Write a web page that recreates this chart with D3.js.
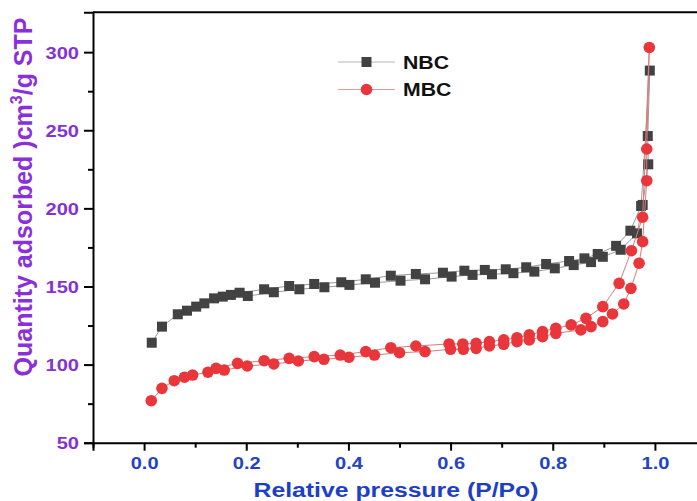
<!DOCTYPE html>
<html>
<head>
<meta charset="utf-8">
<script src="https://cdn.jsdelivr.net/npm/d3@7"></script>
<style>
  body { margin: 0; background: #fff; }
  text { font-family: "Liberation Sans", Arial, sans-serif; font-weight: bold; }
</style>
</head>
<body>
<div id="chart"></div>
<script>
// isotherm points: [P/Po, quantity]
var nbcAds = [[0.015,114],[0.035,124.3],[0.066,132.2],[0.084,134.5],[0.102,137.1],[0.118,139.2],
  [0.137,142.4],[0.154,143.5],[0.170,144.6],[0.203,143.9],[0.254,146.3],[0.304,148.2],[0.353,149.5],
  [0.402,151],[0.452,152.4],[0.502,153.7],[0.550,154.6],[0.602,156.3],[0.643,157.4],[0.681,157.8],
  [0.723,158.5],[0.764,159.5],[0.804,161.6],[0.841,163.7],[0.875,165.6],[0.898,169],[0.933,173.5],
  [0.965,184],[0.976,202.2],[0.987,228.2],[0.986,246.3],[0.990,288.2]];
var nbcDes = [[0.990,288.2],[0.973,201.5],[0.952,185.7],[0.924,176],[0.888,170.8],[0.862,168],
  [0.832,166.3],[0.787,164.4],[0.748,162.3],[0.708,161],[0.667,160.6],[0.627,160.1],[0.585,158.8],
  [0.532,158],[0.483,156.9],[0.434,154.6],[0.386,152.7],[0.333,151.6],[0.284,150.3],[0.235,148.2],
  [0.187,146]];
var mbcAds = [[0.014,76.9],[0.035,84.8],[0.059,89.7],[0.079,91.9],[0.095,93.3],[0.125,95.1],
  [0.157,96.5],[0.202,99.1],[0.254,100.4],[0.302,102.3],[0.352,103.4],[0.401,104.7],[0.451,106.1],
  [0.500,107.6],[0.550,108.3],[0.600,109.8],[0.625,109.8],[0.650,110.4],[0.676,111.9],[0.704,113],
  [0.730,114.7],[0.754,115.8],[0.780,117.9],[0.806,120],[0.855,122.2],[0.875,124.3],[0.898,127.5],
  [0.917,132.4],[0.939,138.8],[0.953,148.8],[0.969,164.9],[0.976,178.7],[0.984,217.7],[0.984,238],
  [0.989,303]];
var mbcDes = [[0.989,303],[0.976,194.3],[0.954,172.9],[0.930,152],[0.898,137.1],[0.865,129.6],
  [0.836,125.4],[0.806,123.2],[0.780,121.1],[0.754,119],[0.730,117.2],[0.704,115.8],[0.676,114.7],
  [0.650,113.6],[0.624,113.2],[0.597,113.2],[0.532,111.9],[0.483,110.8],[0.434,108.3],[0.384,106.1],
  [0.333,105.1],[0.284,104],[0.235,102.5],[0.183,100.8],[0.141,97.6]];

var xMajor = [0, 0.2, 0.4, 0.6, 0.8, 1.0];
var xMinor = [-0.1, 0.1, 0.3, 0.5, 0.7, 0.9];
var yMajor = [50, 100, 150, 200, 250, 300];
var yMinor = [75, 125, 175, 225, 275];
var legendNames = ["NBC", "MBC"];

var W = 697, H = 501;
var stretch = 1.18; // the picture is a bit wider than tall

var svg = d3.select("#chart").append("svg")
  .attr("width", W).attr("height", H);

var x = d3.scaleLinear().domain([-0.1, 1.1]).range([93, 706]);
var y = d3.scaleLinear().domain([50, 325.5]).range([442.7, 12.3]);

// frame top line
svg.append("line")
  .attr("x1", 93).attr("x2", W).attr("y1", y(325.5)).attr("y2", y(325.5))
  .attr("stroke", "#000").attr("stroke-width", 2);

// axes
var xAx = svg.append("g").attr("transform", "translate(0," + y(50) + ")")
  .call(d3.axisBottom(x).tickValues(xMajor).tickFormat(d3.format(".1f")).tickSize(8).tickPadding(6));
svg.append("g").attr("transform", "translate(0," + y(50) + ")")
  .call(d3.axisBottom(x).tickValues(xMinor).tickFormat("").tickSize(5))
  .select(".domain").remove();
var yAx = svg.append("g").attr("transform", "translate(" + x(-0.1) + ",0)")
  .call(d3.axisLeft(y).tickValues(yMajor).tickSize(9).tickPadding(5));
svg.append("g").attr("transform", "translate(" + x(-0.1) + ",0)")
  .call(d3.axisLeft(y).tickValues(yMinor).tickFormat("").tickSize(5))
  .select(".domain").remove();

svg.selectAll(".domain").attr("stroke", "#000").attr("stroke-width", 2);
svg.selectAll(".tick line").attr("stroke", "#000").attr("stroke-width", 2);

xAx.selectAll("text").attr("font-size", 17).attr("fill", "#2343c4")
  .attr("transform", "scale(" + stretch + ",1)")
  .attr("x", 0);
yAx.selectAll("text").attr("font-size", 17).attr("fill", "#8431d8")
  .attr("transform", "scale(" + stretch + ",1)")
  .attr("x", -14 / stretch).attr("dy", "0.35em");

// axis titles
svg.append("text")
  .attr("transform", "translate(396,497) scale(" + stretch + ",1)")
  .attr("text-anchor", "middle").attr("font-size", 21).attr("fill", "#1d3ec6")
  .text("Relative pressure (P/Po)");

var yt = svg.append("text")
  .attr("transform", "translate(32,197) rotate(-90) scale(1,1.02)")
  .attr("text-anchor", "middle").attr("font-size", 25).attr("fill", "#8a2fdc");
yt.append("tspan").text("Quantity adsorbed )cm");
yt.append("tspan").attr("font-size", 16).attr("dy", -10).text("3");
yt.append("tspan").attr("dy", 10).text("/g STP");

// lines
var line = d3.line().x(function(d){ return x(d[0]); }).y(function(d){ return y(d[1]); });
function drawLine(data, col, w) {
  svg.append("path").datum(data).attr("d", line)
    .attr("fill", "none").attr("stroke", col).attr("stroke-width", w);
}
drawLine(nbcAds, "#9a9a9a", 1);
drawLine(nbcDes, "#9a9a9a", 1);

var sq = 10;
svg.selectAll(".nbc").data(nbcAds.concat(nbcDes.slice(1))).enter()
  .append("rect").attr("class", "nbc")
  .attr("x", function(d){ return x(d[0]) - sq / 2; })
  .attr("y", function(d){ return y(d[1]) - sq / 2; })
  .attr("width", sq).attr("height", sq)
  .attr("fill", "#424242");

drawLine(mbcAds, "#d97c7c", 1);
drawLine(mbcDes, "#d97c7c", 1);
svg.selectAll(".mbc").data(mbcAds.concat(mbcDes.slice(1))).enter()
  .append("circle").attr("class", "mbc")
  .attr("cx", function(d){ return x(d[0]); })
  .attr("cy", function(d){ return y(d[1]); })
  .attr("r", 5.8)
  .attr("fill", "#e8363b");

// legend
var leg = svg.append("g");
legendNames.forEach(function(name, i) {
  var ly = 62 + i * 27.5;
  var col = i == 0 ? "#b5b5b5" : "#e29a9a";
  leg.append("line").attr("x1", 338).attr("x2", 395).attr("y1", ly).attr("y2", ly)
    .attr("stroke", col).attr("stroke-width", 1.2);
  if (i == 0) {
    leg.append("rect").attr("x", 366.5 - sq / 2).attr("y", ly - sq / 2)
      .attr("width", sq).attr("height", sq).attr("fill", "#424242");
  } else {
    leg.append("circle").attr("cx", 366.5).attr("cy", ly).attr("r", 5.8).attr("fill", "#e8363b");
  }
  leg.append("text")
    .attr("transform", "translate(403," + (ly + 6.5) + ") scale(" + stretch + ",1)")
    .attr("font-size", 18).attr("fill", "#111")
    .text(name);
});
</script>
</body>
</html>
